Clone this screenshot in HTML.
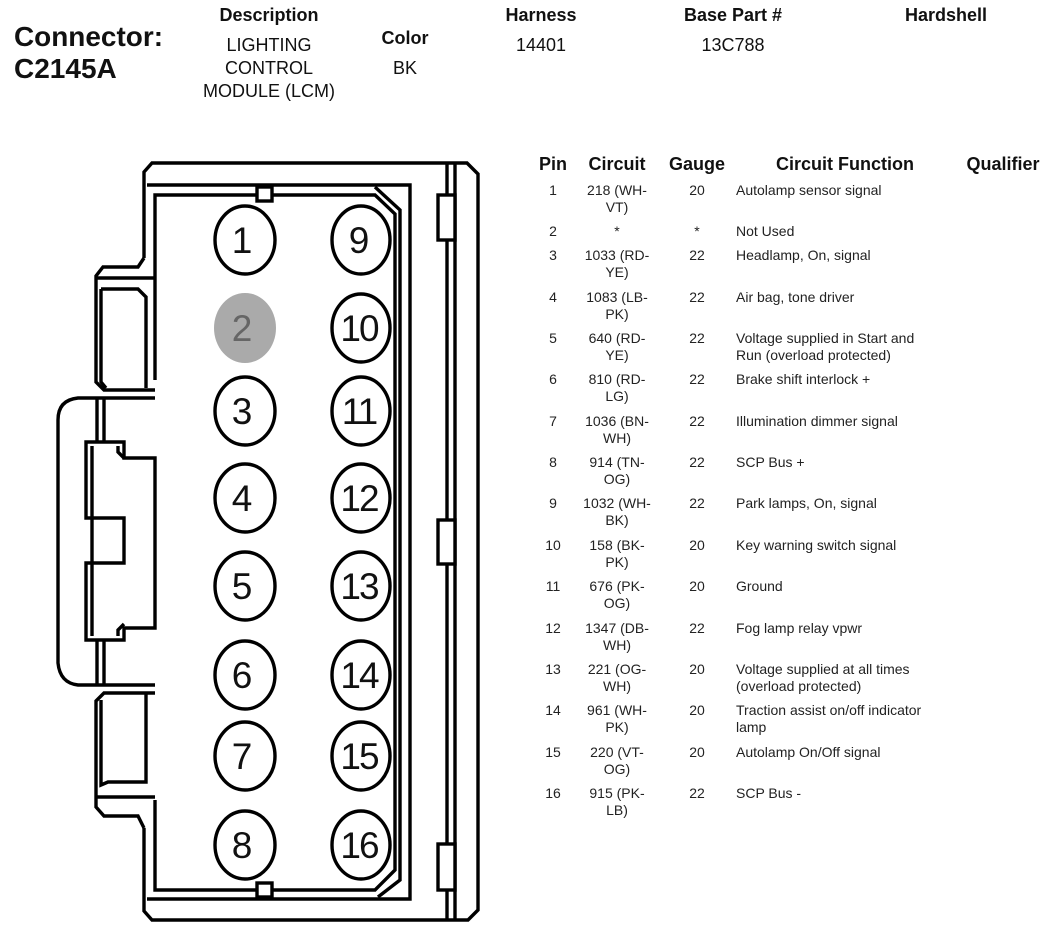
<!DOCTYPE html>
<html><head><meta charset="utf-8"><style>
html,body{margin:0;padding:0;background:#fff;}
svg{display:block;font-family:"Liberation Sans",Arial,sans-serif;}
.h{font-weight:bold;fill:#111;}
.t{font-size:14px;fill:#222;}
.n{font-size:37px;fill:#111;}
</style></head><body>
<svg width="1058" height="932" viewBox="0 0 1058 932">
<!-- header -->
<text class="h" x="14" y="46" font-size="28" textLength="149" lengthAdjust="spacingAndGlyphs">Connector:</text>
<text class="h" x="14" y="78" font-size="28">C2145A</text>
<g text-anchor="middle">
<text class="h" x="269" y="21" font-size="18">Description</text>
<text x="269" y="51" font-size="18" fill="#111">LIGHTING</text>
<text x="269" y="74" font-size="18" fill="#111">CONTROL</text>
<text x="269" y="97" font-size="18" fill="#111">MODULE (LCM)</text>
<text class="h" x="405" y="44" font-size="18">Color</text>
<text x="405" y="74" font-size="18" fill="#111">BK</text>
<text class="h" x="541" y="21" font-size="18">Harness</text>
<text x="541" y="51" font-size="18" fill="#111">14401</text>
<text class="h" x="733" y="21" font-size="18">Base Part #</text>
<text x="733" y="51" font-size="18" fill="#111">13C788</text>
<text class="h" x="946" y="21" font-size="18">Hardshell</text>
</g>

<!-- connector drawing -->
<g fill="none" stroke="#000" stroke-width="3.4" stroke-linejoin="miter">
<path d="M144 258 L144 172 L152 163 L467 163 L478 174 L478 910 L468 920 L152 920 L144 911 L144 828"/>
<path d="M447 163 L447 920 M455 163 L455 920"/>
<rect x="438" y="195" width="17" height="45" fill="#fff"/>
<rect x="438" y="520" width="17" height="44" fill="#fff"/>
<rect x="438" y="844" width="17" height="46" fill="#fff"/>
<path d="M147 185 L410 185 L410 899 L147 899"/>
<path d="M155 380 L155 195 L375 195 L395 214 L395 870 L375 890 L155 890 L155 800"/>
<path d="M375 187 L400 210 L400 880 L378 897"/>
<rect x="257" y="187" width="15" height="14" fill="#fff"/>
<rect x="257" y="883" width="15" height="14" fill="#fff"/>
<path d="M144 258 L138 267 L103 267 L96 276 L96 382 L104 390 L155 390"/>
<path d="M96 278 L155 278"/>
<path d="M101 289 L138 289 L146 297 L146 388"/>
<path d="M101 289 L101 382 L106 388"/>
<path d="M155 398 L78 398 Q58 400 58 420 L58 663 Q60 683 78 685 L155 685"/>
<path d="M97 398 L97 442 M104 398 L104 442 M97 640 L97 685 M104 640 L104 685"/>
<path d="M86 442 L86 518 L124 518 L124 563 L86 563 L86 640 L124 640 L124 628 L155 628 L155 458 L124 458 L124 442 Z"/>
<path d="M92 446 L92 636 M118 446 L118 452 L124 458 M118 636 L118 630 L124 624"/>
<path d="M155 693 L104 693 L96 701 L96 807 L104 816 L138 816 L144 828"/>
<path d="M96 797 L155 797"/>
<path d="M101 700 L101 785 L108 782 L146 782 L146 693"/>
</g>

<!-- pins -->
<g stroke="#000" stroke-width="3.4" fill="#fff">
<ellipse cx="245" cy="240" rx="30" ry="34"/>
<ellipse cx="245" cy="328" rx="31" ry="35" fill="#aaa" stroke="none"/>
<ellipse cx="245" cy="411" rx="30" ry="34"/>
<ellipse cx="245" cy="498" rx="30" ry="34"/>
<ellipse cx="245" cy="586" rx="30" ry="34"/>
<ellipse cx="245" cy="675" rx="30" ry="34"/>
<ellipse cx="245" cy="756" rx="30" ry="34"/>
<ellipse cx="245" cy="845" rx="30" ry="34"/>
<ellipse cx="361" cy="240" rx="29" ry="34"/>
<ellipse cx="361" cy="328" rx="29" ry="34"/>
<ellipse cx="361" cy="411" rx="29" ry="34"/>
<ellipse cx="361" cy="498" rx="29" ry="34"/>
<ellipse cx="361" cy="586" rx="29" ry="34"/>
<ellipse cx="361" cy="675" rx="29" ry="34"/>
<ellipse cx="361" cy="756" rx="29" ry="34"/>
<ellipse cx="361" cy="845" rx="29" ry="34"/>
</g>
<g class="n" text-anchor="middle">
<text x="242" y="253">1</text>
<text x="242" y="341" fill="#666">2</text>
<text x="242" y="424">3</text>
<text x="242" y="511">4</text>
<text x="242" y="599">5</text>
<text x="242" y="688">6</text>
<text x="242" y="769">7</text>
<text x="242" y="858">8</text>
<text x="359" y="253">9</text>
<text x="359" y="341" letter-spacing="-2">10</text>
<text x="359" y="424" letter-spacing="-2">11</text>
<text x="359" y="511" letter-spacing="-2">12</text>
<text x="359" y="599" letter-spacing="-2">13</text>
<text x="359" y="688" letter-spacing="-2">14</text>
<text x="359" y="769" letter-spacing="-2">15</text>
<text x="359" y="858" letter-spacing="-2">16</text>
</g>

<!-- table header -->
<g class="h" font-size="18" text-anchor="middle">
<text x="553" y="170">Pin</text>
<text x="617" y="170">Circuit</text>
<text x="697" y="170">Gauge</text>
<text x="845" y="170">Circuit Function</text>
<text x="1003" y="170">Qualifier</text>
</g>
<g class="t">
<g text-anchor="middle">
<text x="553" y="195">1</text><text x="617" y="195">218 (WH-</text><text x="617" y="212">VT)</text><text x="697" y="195">20</text>
<text x="553" y="236">2</text><text x="617" y="236">*</text><text x="697" y="236">*</text>
<text x="553" y="260">3</text><text x="617" y="260">1033 (RD-</text><text x="617" y="277">YE)</text><text x="697" y="260">22</text>
<text x="553" y="302">4</text><text x="617" y="302">1083 (LB-</text><text x="617" y="319">PK)</text><text x="697" y="302">22</text>
<text x="553" y="343">5</text><text x="617" y="343">640 (RD-</text><text x="617" y="360">YE)</text><text x="697" y="343">22</text>
<text x="553" y="384">6</text><text x="617" y="384">810 (RD-</text><text x="617" y="401">LG)</text><text x="697" y="384">22</text>
<text x="553" y="426">7</text><text x="617" y="426">1036 (BN-</text><text x="617" y="443">WH)</text><text x="697" y="426">22</text>
<text x="553" y="467">8</text><text x="617" y="467">914 (TN-</text><text x="617" y="484">OG)</text><text x="697" y="467">22</text>
<text x="553" y="508">9</text><text x="617" y="508">1032 (WH-</text><text x="617" y="525">BK)</text><text x="697" y="508">22</text>
<text x="553" y="550">10</text><text x="617" y="550">158 (BK-</text><text x="617" y="567">PK)</text><text x="697" y="550">20</text>
<text x="553" y="591">11</text><text x="617" y="591">676 (PK-</text><text x="617" y="608">OG)</text><text x="697" y="591">20</text>
<text x="553" y="633">12</text><text x="617" y="633">1347 (DB-</text><text x="617" y="650">WH)</text><text x="697" y="633">22</text>
<text x="553" y="674">13</text><text x="617" y="674">221 (OG-</text><text x="617" y="691">WH)</text><text x="697" y="674">20</text>
<text x="553" y="715">14</text><text x="617" y="715">961 (WH-</text><text x="617" y="732">PK)</text><text x="697" y="715">20</text>
<text x="553" y="757">15</text><text x="617" y="757">220 (VT-</text><text x="617" y="774">OG)</text><text x="697" y="757">20</text>
<text x="553" y="798">16</text><text x="617" y="798">915 (PK-</text><text x="617" y="815">LB)</text><text x="697" y="798">22</text>
</g>
<text x="736" y="195">Autolamp sensor signal</text>
<text x="736" y="236">Not Used</text>
<text x="736" y="260">Headlamp, On, signal</text>
<text x="736" y="302">Air bag, tone driver</text>
<text x="736" y="343">Voltage supplied in Start and</text>
<text x="736" y="360">Run (overload protected)</text>
<text x="736" y="384">Brake shift interlock +</text>
<text x="736" y="426">Illumination dimmer signal</text>
<text x="736" y="467">SCP Bus +</text>
<text x="736" y="508">Park lamps, On, signal</text>
<text x="736" y="550">Key warning switch signal</text>
<text x="736" y="591">Ground</text>
<text x="736" y="633">Fog lamp relay vpwr</text>
<text x="736" y="674">Voltage supplied at all times</text>
<text x="736" y="691">(overload protected)</text>
<text x="736" y="715">Traction assist on/off indicator</text>
<text x="736" y="732">lamp</text>
<text x="736" y="757">Autolamp On/Off signal</text>
<text x="736" y="798">SCP Bus -</text>
</g>
</svg>
</body></html>
